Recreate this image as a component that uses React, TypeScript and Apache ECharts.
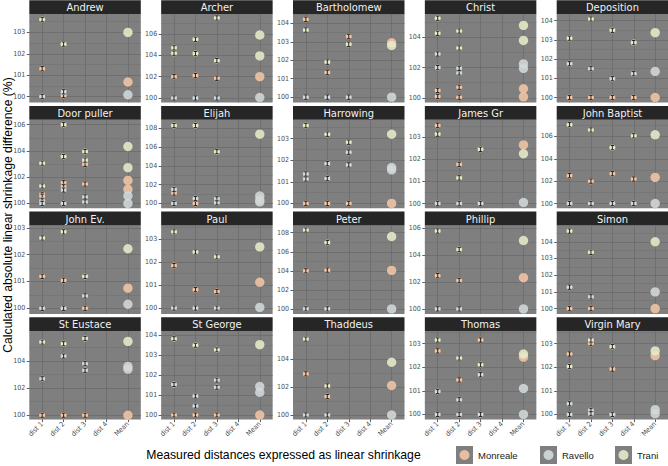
import React, { useEffect, useRef } from "react";
import * as echarts from "echarts";

const panelNames = [
  "Andrew", "Archer", "Bartholomew", "Christ", "Deposition",
  "Door puller", "Elijah", "Harrowing", "James Gr", "John Baptist",
  "John Ev.", "Paul", "Peter", "Phillip", "Simon",
  "St Eustace", "St George", "Thaddeus", "Thomas", "Virgin Mary",
];
const distLabels = ["dist 1", "dist 2", "dist 3", "dist 4", "Mean"];
const siteNames = ["Monreale", "Ravello", "Trani"];
const siteColors = ["#f2c6a6", "#d3dadb", "#e7eac7"];

const yLimits: number[][] = [
  [99.72, 103.86], [99.58, 107.87], [99.71, 104.51], [99.69, 105.55], [99.74, 104.35],
  [99.64, 106.38], [99.5, 108.89], [99.78, 103.87], [99.79, 103.79], [99.58, 107.5],
  [99.79, 103.09], [99.75, 103.58], [99.47, 108.77], [99.63, 106.23], [99.68, 104.98],
  [99.68, 106.2], [99.77, 104.21], [99.67, 105.98], [99.78, 103.53], [99.78, 103.53],
];
const yTicks: number[][] = [
  [100, 101, 102, 103], [100, 102, 104, 106], [100, 101, 102, 103, 104], [100, 102, 104], [100, 101, 102, 103, 104],
  [100, 102, 104, 106], [100, 102, 104, 106, 108], [100, 101, 102, 103], [100, 101, 102, 103], [100, 102, 104, 106],
  [100, 101, 102, 103], [100, 101, 102, 103], [100, 102, 104, 106, 108], [100, 102, 104, 106], [100, 101, 102, 103, 104],
  [100, 102, 104], [100, 101, 102, 103, 104], [100, 102, 104], [100, 101, 102, 103], [100, 101, 102, 103],
];
const errHalf = [
  0.1, 0.2, 0.12, 0.14, 0.11,
  0.16, 0.22, 0.1, 0.1, 0.19,
  0.08, 0.09, 0.22, 0.16, 0.13,
  0.15, 0.1, 0.15, 0.09, 0.09,
];

// each group: [dist 1, dist 2, dist 3, dist 4, Mean]
type G = (number | null)[];
const monreale: G[][] = [
  [[101.3, 100.05, null, null, 100.68]],
  [[102.0, 102.1, 101.85, null, 102.0]],
  [[104.22, 101.34, 103.29, null, 102.95]],
  [[100.49, 100.7, null, null, 100.6], [100.09, 100.04, null, null, 100.06]],
  [[100, 100, 100, 100, 100]],
  [[100.7, 101.58, 102.98, null, 101.76], [100.55, 101.27, 101.48, null, 101.07]],
  [[101.1, 100.0, null, null, 100.4]],
  [[100, 100, 100, null, 100]],
  [[103.53, 101.77, null, null, 102.65]],
  [[102.49, 102.0, 102.67, 102.19, 102.34]],
  [[101.19, 101.04, 100.0, null, 100.75]],
  [[101.84, 100.8, 100.72, null, 101.12]],
  [[104.0, 104.07, null, null, 104.04]],
  [[102.48, 102.12, null, null, 102.33]],
  [[100, 100, null, null, 100]],
  [[100, 100, 100, null, 100]],
  [[100, 100, 100, null, 100]],
  [[102.93, 101.31, null, null, 102.1]],
  [[102.69, 101.46, 103.15, null, 102.43]],
  [[102.56, 103.0, 101.92, null, 102.49]],
];
const ravello: G[][] = [
  [[100.0, 100.22, null, null, 100.08]],
  [[100.0, 100.0, 100.0, null, 100.05]],
  [[100, 100, 100, null, 100]],
  [[102.9, 101.65, null, null, 102.25], [102.0, 101.95, null, null, 101.95]],
  [[101.76, 101.5, 100.98, 101.24, 101.36]],
  [[100.2, 101.02, 100.5, null, 100.58], [100.0, 100.0, 100.12, null, 100.0]],
  [[101.5, 100.53, 100.5, null, 100.8], [100.0, null, 100.07, null, 100.17]],
  [[101.36, 101.84, 101.78, null, 101.66], [101.13, 101.15, 102.37, null, 101.55]],
  [[100, 100, 100, null, 100.05]],
  [[100, 100, 100, 100, 100]],
  [[100, 100, 100.46, null, 100.15]],
  [[100, 100, 100, null, 100.03]],
  [[100, 100, null, null, 100]],
  [[100, 100, null, null, 100]],
  [[101.28, 100.7, null, null, 101.0]],
  [[102.69, 104.36, 103.8, null, 103.6], [null, null, 103.31, null, 103.4]],
  [[101.53, 100.95, 101.75, null, 101.43], [101.53, 100.45, 101.39, null, 101.14]],
  [[100, 100, null, null, 100]],
  [[100.97, 100.62, 101.68, null, 101.1], [100, 100, 100, null, 100]],
  [[100.45, 100.17, 100.0, null, 100.2], [100.0, 100.03, 100.0, null, 100.03]],
];
const trani: G[][] = [
  [[103.6, 102.45, null, null, 103.0]],
  [[104.7, 105.5, 107.5, null, 105.9], [104.2, 104.16, 103.5, null, 103.95]],
  [[103.64, 101.9, 102.87, null, 102.8]],
  [[105.27, 104.42, null, null, 104.8], [104.27, 103.3, null, null, 103.8]],
  [[103.09, 104.09, 103.5, 102.86, 103.38]],
  [[103.07, 106.0, 103.95, null, 104.34], [101.33, 103.57, 103.3, null, 102.73]],
  [[108.27, 108.27, 105.5, null, 107.36]],
  [[103.6, 103.2, 102.83, null, 103.2]],
  [[103.14, 101.16, 102.45, null, 102.25]],
  [[107.05, 106.58, 105.0, 106.06, 106.15]],
  [[102.62, 102.85, 101.19, null, 102.22]],
  [[103.3, 102.43, 102.22, null, 102.65]],
  [[108.28, 106.96, null, null, 107.6]],
  [[105.81, 104.43, null, null, 105.1]],
  [[104.64, 103.37, null, null, 104.0]],
  [[105.39, 105.27, 105.66, null, 105.44]],
  [[103.83, 103.5, 103.27, null, 103.53]],
  [[105.41, 102.07, null, null, 103.76]],
  [[103.15, 102.39, 102.1, null, 102.56]],
  [[102.03, 103.15, 102.87, null, 102.69]],
];

const xTitle = "Measured distances expressed as linear shrinkage";
const yTitle = "Calculated absolute linear shrinkage difference (%)";

const NARROW = "'Liberation Sans Narrow', 'DejaVu Sans Condensed', 'Arial Narrow', sans-serif";
const SANS = "'Liberation Sans', Arial, Helvetica, sans-serif";

export default function App() {
  const ref = useRef<HTMLDivElement>(null);
  useEffect(() => {
    const chart = echarts.init(ref.current!, null, { renderer: "svg" });
    const PW = 111.5, PH = 88.5, STRIP = 13.8;
    const colLeft = (c: number) => 29.3 + c * 131.85;
    const plotTop = (r: number) => 14 + r * 105.7;
    const cats = [1, 2, 3, 4, 5];

    const grids: any[] = [];
    const xAxes: any[] = [];
    const yAxes: any[] = [];
    const minorAxes: any[] = [];
    const series: any[] = [];
    const graphics: any[] = [];
    const sitesData = [monreale, ravello, trani];

    panelNames.forEach((name, i) => {
      const r = Math.floor(i / 5), c = i % 5;
      const left = colLeft(c), top = plotTop(r);
      const [mn, mx] = yLimits[i];
      const ticks = yTicks[i];
      const step = ticks[1] - ticks[0];
      const ext = [ticks[0] - step, ...ticks, ticks[ticks.length - 1] + step];
      const minors: number[] = [];
      for (let k = 0; k < ext.length - 1; k++) {
        const m = (ext[k] + ext[k + 1]) / 2;
        if (m > mn && m < mx) minors.push(m);
      }
      grids.push({
        left, top, width: PW, height: PH, show: true,
        backgroundColor: "#7f7f7f", borderWidth: 0,
      });
      const bottom = r === 3;
      xAxes.push({
        type: "value", gridIndex: i, min: 0.4, max: 5.6,
        axisLine: { show: false },
        axisTick: { show: bottom, customValues: cats, length: 2.5, lineStyle: { color: "#333333", width: 0.8 } },
        axisLabel: {
          show: bottom, customValues: cats, rotate: 45, margin: 3.5,
          fontSize: 7, color: "#4d4d4d", fontFamily: NARROW,
          formatter: (v: number) => distLabels[Math.round(v) - 1],
        },
        splitLine: { show: true, lineStyle: { color: "#6b6b6b", width: 0.8 } },
      });
      yAxes.push({
        type: "value", gridIndex: i, min: mn, max: mx,
        axisLine: { show: false },
        axisTick: { show: true, customValues: ticks, length: 2.5, lineStyle: { color: "#333333", width: 0.8 } },
        axisLabel: {
          customValues: ticks, margin: 4, fontSize: 7, color: "#4d4d4d", fontFamily: NARROW,
          formatter: (v: number) => String(Math.round(v)),
        },
        splitLine: { show: true, lineStyle: { color: "#6b6b6b", width: 0.8 } },
      });
      minorAxes.push({
        type: "value", gridIndex: i, min: mn, max: mx, position: "left",
        axisLine: { show: false },
        axisTick: { show: false, customValues: minors },
        axisLabel: { show: false, customValues: minors },
        splitLine: { show: true, lineStyle: { color: "#717171", width: 0.5 } },
      });

      const items: number[][] = [];
      sitesData.forEach((site, s) => {
        site[i].forEach((g) => {
          g.forEach((v, k) => {
            if (v === null) return;
            items.push([k + 1, v, s, k === 4 ? 1 : 0, errHalf[i]]);
          });
        });
      });
      series.push({
        type: "custom", coordinateSystem: "cartesian2d",
        xAxisIndex: i, yAxisIndex: i, silent: true, clip: false,
        data: items,
        renderItem: (_p: any, api: any) => {
          const x = api.value(0), y = api.value(1), s = api.value(2), kind = api.value(3), e = api.value(4);
          const p = api.coord([x, y]);
          const color = siteColors[s];
          if (kind === 1) {
            return { type: "circle", shape: { cx: p[0], cy: p[1], r: 4.7 }, style: { fill: color, opacity: 0.88 } };
          }
          const t = api.coord([x, y + e])[1];
          const b = api.coord([x, y - e])[1];
          const w = 1.7;
          const ls = { stroke: "#141414", lineWidth: 0.9 };
          return {
            type: "group",
            children: [
              { type: "circle", shape: { cx: p[0], cy: p[1], r: 3.2 }, style: { fill: color, stroke: "rgba(60,60,60,0.35)", lineWidth: 0.4 } },
              { type: "line", shape: { x1: p[0], y1: t, x2: p[0], y2: b }, style: ls },
              { type: "line", shape: { x1: p[0] - w, y1: t, x2: p[0] + w, y2: t }, style: ls },
              { type: "line", shape: { x1: p[0] - w, y1: b, x2: p[0] + w, y2: b }, style: ls },
            ],
          };
        },
      });

      graphics.push({
        type: "rect", shape: { x: left, y: top - STRIP, width: PW, height: STRIP },
        style: { fill: "#262626" }, silent: true,
      });
      graphics.push({
        type: "text", x: left + PW / 2, y: top - STRIP / 2 + 0.5, silent: true,
        style: {
          text: name, fill: "#f2f2f2", fontSize: 11, fontFamily: NARROW,
          align: "center", verticalAlign: "middle", textAlign: "center", textVerticalAlign: "middle",
        },
      });
    });

    const legendX = [456, 540, 615];
    siteNames.forEach((nm, s) => {
      const lx = legendX[s];
      graphics.push({ type: "rect", shape: { x: lx, y: 446, width: 17, height: 18 }, style: { fill: "#7f7f7f" }, silent: true });
      graphics.push({ type: "circle", shape: { cx: lx + 8.5, cy: 455, r: 5 }, style: { fill: siteColors[s], opacity: 0.9 }, silent: true });
      graphics.push({
        type: "text", x: lx + 22, y: 455.5, silent: true,
        style: {
          text: nm, fill: "#1a1a1a", fontSize: 9.5, fontFamily: SANS,
          align: "left", verticalAlign: "middle", textAlign: "left", textVerticalAlign: "middle",
        },
      });
    });
    graphics.push({
      type: "text", x: 283.5, y: 455, silent: true,
      style: {
        text: xTitle, fill: "#000000", fontSize: 12.2, fontFamily: SANS,
        align: "center", verticalAlign: "middle", textAlign: "center", textVerticalAlign: "middle",
      },
    });
    graphics.push({
      type: "text", x: 7.5, y: 215, rotation: Math.PI / 2, silent: true,
      style: {
        text: yTitle, fill: "#000000", fontSize: 12.2, fontFamily: SANS,
        align: "center", verticalAlign: "middle", textAlign: "center", textVerticalAlign: "middle",
      },
    });

    chart.setOption({
      animation: false,
      backgroundColor: "#ffffff",
      grid: grids,
      xAxis: xAxes,
      yAxis: [...yAxes, ...minorAxes],
      series,
      graphic: graphics,
    });
    return () => chart.dispose();
  }, []);
  return <div ref={ref} style={{ position: "absolute", left: 0, top: 0, width: 668, height: 466 }} />;
}
